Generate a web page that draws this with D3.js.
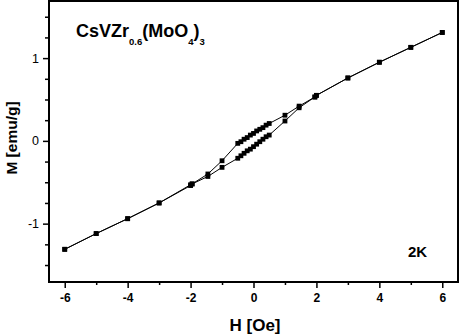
<!DOCTYPE html>
<html><head><meta charset="utf-8">
<script src="https://cdn.jsdelivr.net/npm/d3@7"></script>
<style>body{margin:0;background:#fff}svg{display:block}text{font-family:Arial,"Liberation Sans",sans-serif}</style>
</head><body><svg id="c" width="461" height="335"></svg>
<script>
// Sweep up: outer negative -> lower branch -> outer positive
const upH = [-6,-5,-4,-3,-2,-1.95,-1.45,-1,-0.5,-0.4,-0.3,-0.2,-0.1,0,0.1,0.2,0.3,0.4,0.5,1,1.45,1.95,2,3,4,5,6];
const upM = [-1.31,-1.12,-0.94,-0.75,-0.53,-0.52,-0.43,-0.32,-0.21,-0.18,-0.15,-0.12,-0.10,-0.07,-0.04,-0.01,0.02,0.05,0.07,0.24,0.40,0.53,0.55,0.76,0.95,1.13,1.31];
// Sweep down: outer positive -> upper branch -> outer negative
const downH = [6,5,4,3,2,1.95,1.45,1,0.5,0.4,0.3,0.2,0.1,0,-0.1,-0.2,-0.3,-0.4,-0.5,-1,-1.45,-1.95,-2,-3,-4,-5,-6];
const downM = [1.31,1.13,0.95,0.76,0.55,0.53,0.42,0.31,0.21,0.19,0.16,0.14,0.12,0.09,0.07,0.04,0.02,-0.01,-0.03,-0.24,-0.40,-0.52,-0.54,-0.75,-0.94,-1.12,-1.31];
const xTicks = [-6,-4,-2,0,2,4,6];
const xMinor = [-5,-3,-1,1,3,5];
const yTicks = [-1,0,1];
const yMinor = [-1.5,-1.25,-0.75,-0.5,-0.25,0.25,0.5,0.75,1.25,1.5];

const svg = d3.select("#c");
const L=49,R=458,T=1,B=282;
const x = d3.scaleLinear().domain([-6.5,6.5]).range([L,R]);
const y = d3.scaleLinear().domain([-1.705,1.69]).range([B,T]);

// ticks
const gx = svg.append("g").attr("transform",`translate(0,${B})`);
gx.call(d3.axisBottom(x).tickValues(xTicks).tickSize(6).tickFormat(d3.format("d")))
  .call(g=>g.select(".domain").remove());
gx.selectAll("line").attr("stroke","#000").attr("stroke-width",1.5);
gx.selectAll("text").attr("font-size",12).attr("font-weight","bold").attr("dy","0.9em").text(d=>String(d));
const gxm = svg.append("g").attr("transform",`translate(0,${B})`);
gxm.call(d3.axisBottom(x).tickValues(xMinor).tickSize(3).tickFormat(""))
  .call(g=>g.select(".domain").remove());
gxm.selectAll("line").attr("stroke","#000").attr("stroke-width",1.5);

const gy = svg.append("g").attr("transform",`translate(${L},0)`);
gy.call(d3.axisLeft(y).tickValues(yTicks).tickSize(6).tickFormat(d=>String(d)))
  .call(g=>g.select(".domain").remove());
gy.selectAll("line").attr("stroke","#000").attr("stroke-width",1.5);
gy.selectAll("text").attr("font-size",12.5).attr("x",-10);
const gym = svg.append("g").attr("transform",`translate(${L},0)`);
gym.call(d3.axisLeft(y).tickValues(yMinor).tickSize(4).tickFormat(""))
  .call(g=>g.select(".domain").remove());
gym.selectAll("line").attr("stroke","#000").attr("stroke-width",1.5);

// frame
svg.append("rect").attr("x",L).attr("y",T).attr("width",R-L).attr("height",B-T)
  .attr("fill","none").attr("stroke","#000").attr("stroke-width",2);

// data
const line = d3.line().x(d=>x(d[0])).y(d=>y(d[1]));
const up = upH.map((h,i)=>[h,upM[i]]);
const down = downH.map((h,i)=>[h,downM[i]]);
[up,down].forEach(s=>{
  svg.append("path").datum(s).attr("d",line).attr("fill","none").attr("stroke","#000").attr("stroke-width",1);
  svg.append("g").selectAll("rect").data(s).join("rect")
    .attr("x",d=>x(d[0])-2.4).attr("y",d=>y(d[1])-2.4).attr("width",4.8).attr("height",4.8).attr("fill","#000");
});

// labels
svg.append("text").attr("x",255).attr("y",331).attr("text-anchor","middle")
  .attr("font-size",17).attr("font-weight","bold").text("H [Oe]");
svg.append("text").attr("transform","translate(17,138) rotate(-90)").attr("text-anchor","middle")
  .attr("font-size",15.5).attr("font-weight","bold").text("M [emu/g]");

const t = svg.append("text").attr("x",76).attr("y",37).attr("font-size",18).attr("font-weight","bold");
t.append("tspan").text("CsVZr");
t.append("tspan").attr("font-size",9.5).attr("dy",8).text("0.6");
t.append("tspan").attr("dy",-8).text("(MoO");
t.append("tspan").attr("font-size",9.5).attr("dy",8).text("4");
t.append("tspan").attr("dy",-8).text(")");
t.append("tspan").attr("font-size",9.5).attr("dy",8).text("3");

svg.append("text").attr("x",408).attr("y",257).attr("font-size",15).attr("font-weight","bold").text("2K");
</script></body></html>
